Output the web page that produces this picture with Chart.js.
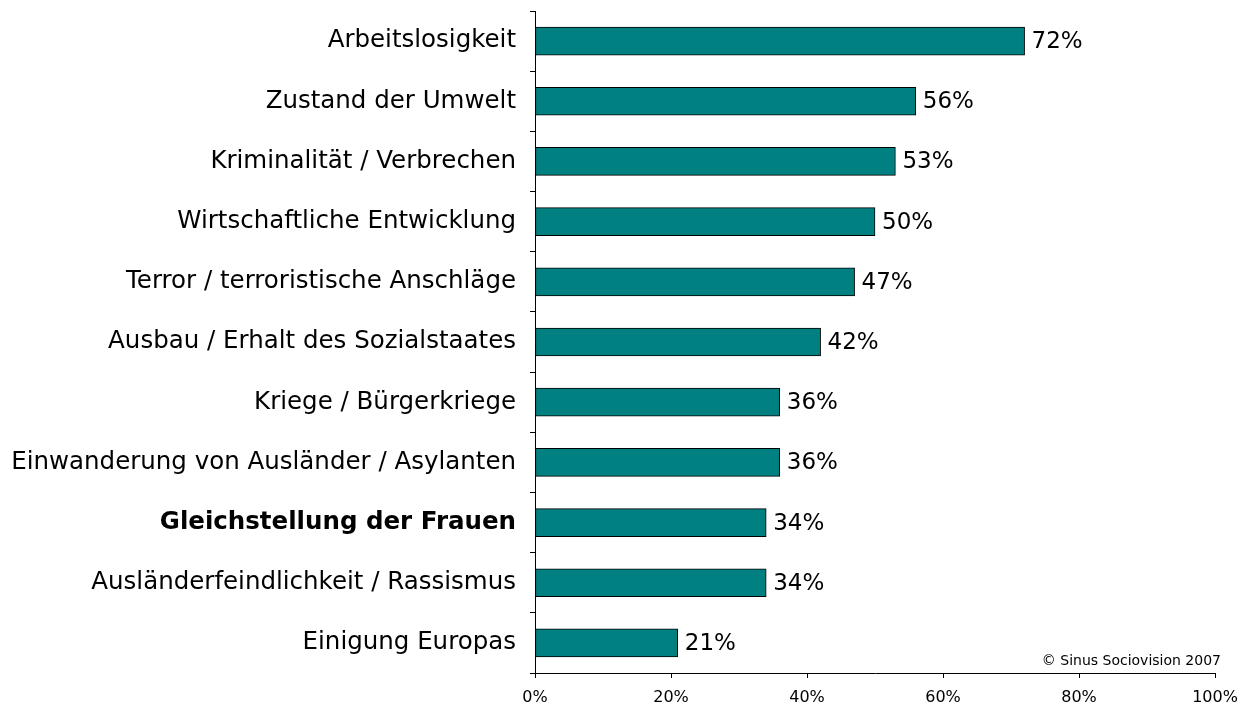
<!DOCTYPE html>
<html>
<head>
<meta charset="utf-8">
<script src="https://cdn.jsdelivr.net/npm/chart.js@4"></script>
<style>
  html, body { margin: 0; padding: 0; background: #fff; }
  #wrap { width: 1257px; height: 707px; }
</style>
</head>
<body>
<div id="wrap"><canvas id="myChart" width="1257" height="707"></canvas></div>
<script>
const categories = [
    "Arbeitslosigkeit",
    "Zustand der Umwelt",
    "Kriminalität / Verbrechen",
    "Wirtschaftliche Entwicklung",
    "Terror / terroristische Anschläge",
    "Ausbau / Erhalt des Sozialstaates",
    "Kriege / Bürgerkriege",
    "Einwanderung von Ausländer / Asylanten",
    "Gleichstellung der Frauen",
    "Ausländerfeindlichkeit / Rassismus",
    "Einigung Europas",
];
const values = [72, 56, 53, 50, 47, 42, 36, 36, 34, 34, 21];
const xTicks = [0, 20, 40, 60, 80, 100];
const boldCategory = "Gleichstellung der Frauen";
const sourceNote = "© Sinus Sociovision 2007";

const fontFamily = "'DejaVu Sans', Verdana, sans-serif";

// value labels at the end of each bar + source note
const valueLabels = {
    id: "valueLabels",
    afterDatasetsDraw(chart) {
        const c = chart.ctx;
        const meta = chart.getDatasetMeta(0);
        c.save();
        c.fillStyle = "#000";
        c.font = "23px " + fontFamily;
        c.textBaseline = "middle";
        c.textAlign = "left";
        meta.data.forEach((bar, i) => {
            c.fillText(values[i] + "%", bar.x + 7, bar.y + 1);
        });
        c.font = "14px " + fontFamily;
        c.textAlign = "right";
        c.fillText(sourceNote, chart.chartArea.right + 6, chart.chartArea.bottom - 12);
        c.restore();
    },
};

const ctx = document.getElementById("myChart");
const myChart = new Chart(ctx, {
    type: "bar",
    data: {
        labels: categories,
        datasets: [{
            data: values,
            backgroundColor: "#008080",
            borderColor: "#000",
            borderWidth: 1,
            borderSkipped: false,
            barThickness: 28,
        }],
    },
    options: {
        indexAxis: "y",
        responsive: false,
        animation: false,
        layout: { padding: { top: 11, right: 42, left: 0, bottom: 0 } },
        plugins: {
            legend: { display: false },
            tooltip: { enabled: false },
        },
        scales: {
            x: {
                min: 0,
                max: 100,
                afterBuildTicks: (axis) => {
                    axis.ticks = xTicks.map((v) => ({ value: v }));
                },
                afterFit: (axis) => { axis.height = 34; },
                border: { color: "#000", width: 1 },
                grid: { drawOnChartArea: false, tickLength: 5, color: "#000" },
                ticks: {
                    color: "#000",
                    padding: 10,
                    font: { family: fontFamily, size: 16 },
                    callback: (v) => v + "%",
                },
            },
            y: {
                afterFit: (axis) => {
                    axis.width = 535;
                    axis.paddingTop = 0;
                    axis.paddingBottom = 0;
                },
                border: { color: "#000", width: 1 },
                grid: { offset: true, drawOnChartArea: false, tickLength: 5, color: "#000" },
                ticks: {
                    color: "#000",
                    padding: 14,
                    font: (c) => ({
                        family: fontFamily,
                        size: 24.5,
                        weight: categories[c.index] === boldCategory ? "bold" : "normal",
                    }),
                },
            },
        },
    },
    plugins: [valueLabels],
});
</script>
</body>
</html>
